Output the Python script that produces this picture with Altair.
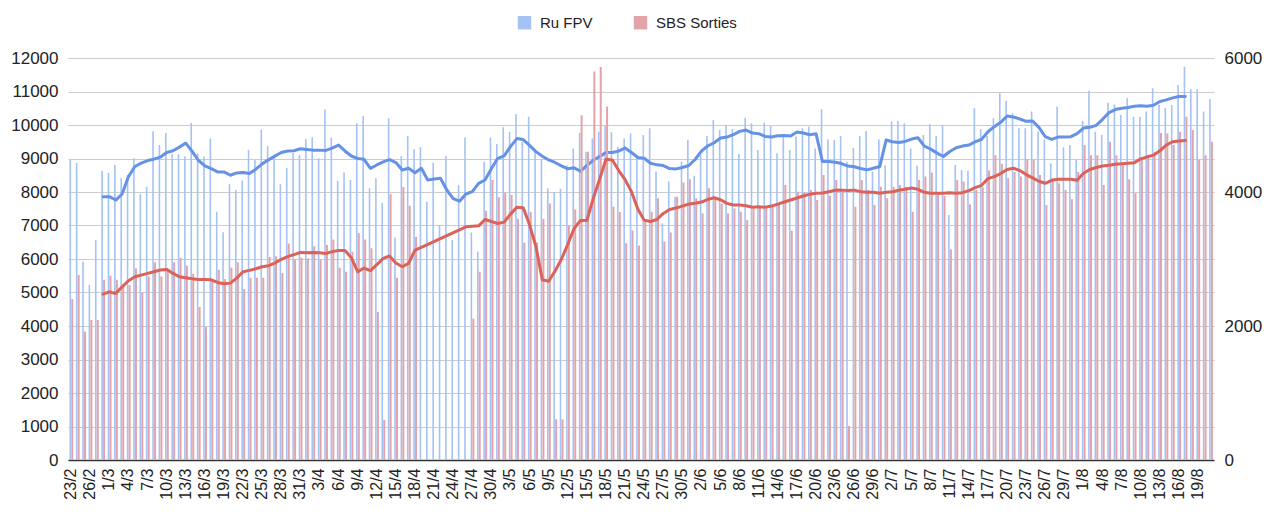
import altair as alt
import pandas as pd

N = 180
days = pd.date_range("2025-02-23", periods=N, freq="D")
day_labels = [f"{d.day}/{d.month}" for d in days]
tick_labels = day_labels[::3]

ru_fpv = [
    8955, 8876, 5920, 5224, 6567, 8637, 8577, 8806, 8408, 8500,
    9005, 7950, 8160, 9810, 9400, 9760, 9130, 9130, 9070, 10060,
    9150, 9060, 9600, 7410, 6800, 8235, 8060, 8340, 9255, 8955,
    9860, 9365, 9115, 8235, 8715, 9165, 9105, 9580, 9635, 9005,
    10460, 9620, 8330, 8580, 8360, 10050, 10270, 8110, 8410, 7680,
    10200, 6640, 9075, 9670, 9275, 9335, 7710, 8875, 7015, 9075,
    6570, 8200, 9630, 6790, 6220, 8900, 9630, 9435, 9930, 9800,
    10330, 9500, 10250, 9260, 8980, 8110, 8000, 8100, 8800, 9300,
    9760, 9200, 9600, 9800, 9980, 9780, 9350, 9600, 9750, 9100,
    9700, 9900, 8610, 7065, 8310, 7860, 8900, 9550, 8480, 9100,
    9670, 10150, 9850, 10000, 9880, 9135, 10220, 10050, 9255, 10070,
    9970, 9155, 9670, 9255, 9650, 9900, 9950, 9300, 10470, 9570,
    9550, 9670, 8900, 9320, 9670, 9820, 8610, 9570, 8800, 10105,
    10120, 10050, 9300, 8780, 9700, 10020, 9670, 10000, 7310, 8805,
    8655, 8635, 10500, 9870, 9670, 10200, 10945, 10725, 10350, 9900,
    9900, 10400, 9800, 9570, 8855, 10550, 9335, 9400, 8955, 10130,
    11025, 9800, 9700, 10665, 10615, 10300, 10795, 10250, 10250, 10400,
    11095, 10600, 10500, 10600, 11195, 11740, 11065, 11065, 10400, 10765,
]

sbs_sorties = [
    2400, 2760, 1915, 2090, 2090, 2690, 2750, 2690, 2620, 2610,
    2860, 2500, 2740, 2950, 2740, 2850, 2950, 3020, 2900, 2780,
    2285, 1985, 2690, 2840, 2700, 2870, 2950, 2550, 2720, 2720,
    2720, 3030, 3040, 2790, 3230, 2990, 3020, 3010, 3190, 2990,
    3210, 3290, 2870, 2810, 3110, 3385, 3290, 3160, 2210, 600,
    3970, 2720, 4075, 3795, 3330, None, None, None, None, None,
    None, None, None, 2110, 2810, 3720, 4180, 3920, 3990, 3955,
    3600, 3245, 3700, 3245, 3600, 3830, 607, 607, 3500, 3740,
    5145, 4600, 5800, 5865, 5275, 3780, 3700, 3235, 3425, 3200,
    3580, 3705, 3905, 3260, 3395, 3930, 4140, 4190, 3905, 3680,
    4055, 3920, 3830, 3680, 3755, 3705, 3580, 3755, 3780, 3755,
    3780, 3830, 4105, 3425, 4005, 4000, 4030, 3880, 4255, 3945,
    4180, 4005, 507, 3780, 4180, 4030, 3805, 4080, 3905, 4080,
    4105, 4080, 3705, 4180, 4230, 4290, 3980, 3940, 3145, 4180,
    4155, 3815, 4030, 4070, 4320, 4550, 4420, 4205, 4300, 4230,
    4490, 4480, 4255, 3805, 4205, 4130, 4030, 3890, 4300, 4700,
    4550, 4550, 4105, 4750, 4550, 4400, 4190, 3980, 4500, 4550,
    4600, 4880, 4875, 4700, 4900, 5125, 4925, 4480, 4550, 4750,
]

ru_fpv_trend = [
    None, None, None, None, None, 7860, 7860, 7760, 7940, 8460,
    8760, 8860, 8940, 8980, 9040, 9180, 9230, 9340, 9460, 9210,
    8940, 8780, 8700, 8600, 8600, 8500, 8570, 8585, 8550, 8680,
    8840, 8960, 9070, 9180, 9225, 9230, 9290, 9270, 9250, 9250,
    9240, 9310, 9400, 9225, 9075, 9000, 8976, 8707, 8807, 8900,
    8966, 8880, 8657, 8707, 8578, 8707, 8358, 8390, 8409, 8060,
    7800, 7726, 7940, 8010, 8259, 8358, 8697, 9006, 9080, 9355,
    9594, 9564, 9390, 9205, 9066, 8956, 8882, 8782, 8692, 8722,
    8618, 8792, 8946, 9056, 9180, 9180, 9220, 9315, 9180, 9031,
    9006, 8857, 8810, 8790, 8700, 8690, 8730, 8790, 8970, 9220,
    9380, 9470, 9610, 9640, 9710, 9810, 9850, 9760, 9740, 9660,
    9640, 9680, 9690, 9670, 9790, 9760, 9710, 9736, 8910, 8910,
    8890, 8850, 8775, 8755, 8700, 8660, 8710, 8760, 9550, 9500,
    9480, 9510, 9580, 9620, 9370, 9280, 9160, 9060, 9210, 9320,
    9370, 9400, 9500, 9570, 9800, 9950, 10080, 10270, 10240, 10180,
    10110, 10120, 9930, 9650, 9570, 9640, 9640, 9650, 9740, 9910,
    9930, 9990, 10170, 10370, 10460, 10500, 10520, 10560, 10574, 10560,
    10590, 10700, 10750, 10810, 10850, 10853, None, None, None, None,
]

sbs_trend = [
    None, None, None, None, None, 2475, 2510, 2485, 2585, 2675,
    2735, 2760, 2785, 2810, 2835, 2845, 2785, 2735, 2720, 2705,
    2695, 2695, 2690, 2650, 2630, 2640, 2715, 2810, 2830, 2855,
    2885, 2900, 2940, 2995, 3035, 3065, 3098, 3095, 3098, 3092,
    3083, 3110, 3128, 3128, 3020, 2810, 2865, 2825, 2915, 3010,
    3045, 2940, 2885, 2935, 3133, 3174, None, None, None, None,
    None, None, 3480, 3490, 3495, 3590, 3560, 3530, 3550, 3670,
    3771, 3765, 3510, 3185, 2690, 2668, 2822, 2996, 3220, 3457,
    3576, 3576, 3905, 4190, 4489, 4479, 4320, 4185, 4005, 3745,
    3580, 3560, 3590, 3680, 3740, 3760, 3790, 3820, 3833, 3850,
    3890, 3915, 3885, 3830, 3805, 3805, 3795, 3772, 3780, 3772,
    3790, 3820, 3850, 3880, 3910, 3940, 3968, 3980, 3985, 4005,
    4025, 4028, 4022, 4028, 4005, 3995, 3995, 3980, 3995, 4005,
    4025, 4042, 4060, 4040, 3995, 3980, 3980, 3980, 3990, 3980,
    3990, 4020, 4065, 4100, 4200, 4230, 4275, 4335, 4354, 4320,
    4260, 4210, 4160, 4130, 4175, 4190, 4190, 4190, 4175, 4280,
    4335, 4365, 4389, 4400, 4415, 4420, 4428, 4438, 4495, 4525,
    4550, 4615, 4700, 4750, 4762, 4768, None, None, None, None,
]

series_names = ["Ru FPV", "SBS Sorties"]

df = pd.DataFrame({
    "day": day_labels,
    "fpv": ru_fpv,
    "sbs": sbs_sorties,
    "fpv_avg": ru_fpv_trend,
    "sbs_avg": sbs_trend,
})

BLUE_BAR = "#a4c2f4"
RED_BAR = "#e2a4a8"
BLUE_LINE = "#6592e6"
RED_LINE = "#dc6259"
FONT = "Liberation Sans"

x_enc = alt.X(
    "day:N",
    sort=day_labels,
    title=None,
    scale=alt.Scale(paddingInner=0, paddingOuter=0),
    axis=alt.Axis(
        values=tick_labels, labelAngle=270, labelFontSize=16, labelPadding=8,
        ticks=False, domainColor="#333333", domainWidth=1.5,
        labelColor="#222222", grid=False, labelFont=FONT,
    ),
)

color_scale = alt.Scale(domain=series_names, range=[BLUE_BAR, RED_BAR])
legend = alt.Legend(
    orient="none", legendX=449, legendY=-43, direction="horizontal",
    title=None, symbolType="square", symbolSize=180, labelFontSize=15,
    labelColor="#222222", columnPadding=40, labelOffset=8,
    symbolStrokeWidth=0, padding=0, labelFont=FONT,
)

left_axis = alt.Axis(
    values=list(range(0, 12001, 1000)), orient="left", labelFontSize=17,
    labelPadding=10, ticks=False, domain=False, grid=True, format="d",
    gridColor="#cccccc", labelColor="#222222", labelFont=FONT,
)
right_axis = alt.Axis(
    values=[0, 2000, 4000, 6000], orient="right", labelFontSize=17,
    labelPadding=10, ticks=False, domain=False, grid=False, format="d",
    labelColor="#222222", labelFont=FONT,
)
left_scale = alt.Scale(domain=[0, 12000], nice=False)
right_scale = alt.Scale(domain=[0, 6000], nice=False)

base = alt.Chart(df)

blue_bars = base.transform_filter("isValid(datum.fpv)").transform_calculate(
    series="'Ru FPV'"
).mark_bar(width=1.6, xOffset=-0.9).encode(
    x=x_enc,
    y=alt.Y("fpv:Q", scale=left_scale, axis=left_axis, title=None),
    color=alt.Color("series:N", scale=color_scale, legend=legend),
)
blue_line = base.transform_filter("isValid(datum.fpv_avg)").mark_line(
    color=BLUE_LINE, strokeWidth=3, strokeJoin="round", strokeCap="round"
).encode(
    x=x_enc,
    y=alt.Y("fpv_avg:Q", scale=left_scale, axis=left_axis, title=None),
)

red_bars = base.transform_filter("isValid(datum.sbs)").transform_calculate(
    series="'SBS Sorties'"
).mark_bar(width=2.0, xOffset=1.1).encode(
    x=x_enc,
    y=alt.Y("sbs:Q", scale=right_scale, axis=right_axis, title=None),
    color=alt.Color("series:N", scale=color_scale, legend=legend),
)
red_line = base.transform_filter("isValid(datum.sbs_avg)").mark_line(
    color=RED_LINE, strokeWidth=3, strokeJoin="round", strokeCap="round"
).encode(
    x=x_enc,
    y=alt.Y("sbs_avg:Q", scale=right_scale, axis=right_axis, title=None),
)

left_layer = alt.layer(blue_bars, blue_line)
right_layer = alt.layer(red_bars, red_line)

chart = alt.layer(left_layer, right_layer).resolve_scale(
    y="independent"
).properties(
    width=1146,
    height=402,
    padding={"left": 60, "top": 50, "right": 50, "bottom": 50},
    autosize=alt.AutoSizeParams(type="none"),
).configure(font=FONT).configure_view(stroke=None)

chart.save("out.html", embed_options={"renderer": "svg", "actions": False})
